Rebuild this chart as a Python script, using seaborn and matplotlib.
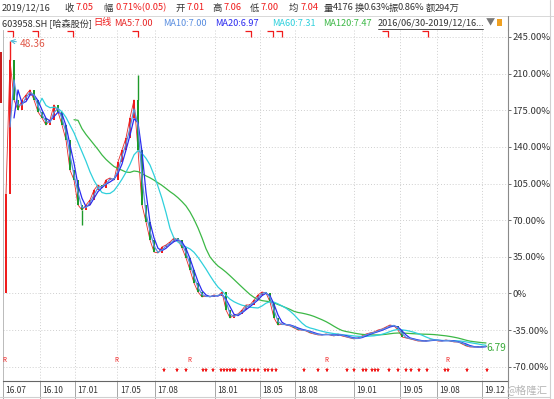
import numpy as np
import pandas as pd
import matplotlib
matplotlib.use("Agg")
import matplotlib.pyplot as plt
from matplotlib.lines import Line2D
from matplotlib.patches import Rectangle
import seaborn as sns

sns.set_style("white")
plt.rcParams['font.family'] = ['Noto Sans CJK SC', 'DejaVu Sans']

# ---------------- data ----------------
base_price = 14.17          # first day close = 0%
period_high = 48.36
period_low = 6.79

# close, % vs first close, one sample ~ 7 trading days
close_pct = [95.0, 223.0, 184.8, 175.3, 184.8, 189.6, 194.4, 184.8, 173.4, 167.6,
             160.9, 165.7, 180.1, 173.4, 160.9, 146.6, 117.9, 108.4, 84.5, 79.7,
             84.5, 89.3, 98.8, 103.6, 100.8, 108.4, 110.3, 108.4, 125.5, 137.0,
             148.5, 167.6, 184.8, 137.0, 84.5, 68.3, 51.1, 39.6, 38.7, 44.4,
             46.3, 49.2, 53.0, 51.1, 43.5, 33.9, 22.4, 10.0, 1.4, -3.3,
             -2.4, -3.3, -1.4, -2.4, 1.4, -15.8, -23.4, -20.5, -19.6, -15.8,
             -11.0, -11.0, -6.2, -1.4, 1.4, 0.5, -8.1, -23.4, -30.1, -29.1,
             -30.1, -31.0, -32.9, -34.9, -34.9, -35.8, -37.7, -38.7, -39.6, -39.6,
             -38.7, -39.6, -40.6, -38.7, -40.6, -41.5, -42.5, -43.4, -42.5, -40.6,
             -38.7, -37.7, -36.8, -34.9, -33.9, -32.0, -30.1, -31.0, -34.9, -41.5,
             -42.5, -43.4, -44.4, -45.4, -45.4, -45.4, -44.4, -44.4, -45.4, -45.4,
             -44.4, -45.4, -46.3, -46.3, -48.2, -50.1, -51.1, -51.1, -51.1, -51.1,
             -50.2]
first_open_pct = 0.0
spike_idx = [1, 19, 33]
spike_pct = [241.3, 65.4, 208.7]

month_labels = ['16.07', '16.10', '17.01', '17.05', '17.08', '18.01',
                '18.05', '18.08', '19.01', '19.05', '19.08', '19.12']
month_pos = [-0.75, 8.4, 17.2, 27.85, 37.2, 52.25, 63.5, 72.25, 87.0, 98.5, 107.75, 119.0]

yticks = [245, 210, 175, 140, 105, 70, 35, 0, -35, -70]
ytick_labels = ['245.00%', '210.00%', '175.00%', '140.00%', '105.00%', '70.00%',
                '35.00%', '0%', '-35.00%', '-70.00%']

flag_pos = [1, 7.25, 16, 32.25, 60.5, 66, 68.25, 94.75, 104.75]
r_pos = [-0.5, 27.5, 45.75, 80, 110.25]
star_pos = [39.5, 42.75, 45, 49.25, 50, 51.75, 53.75, 54.5, 55.25, 56, 56.75, 57.25,
            59, 60, 61, 62, 63, 64.75, 65.5, 66.5, 67.5, 74.5, 78, 80.25, 85.25, 87,
            89.25, 90, 91.5, 92.25, 93, 95.75, 98, 100, 101.25, 103.25, 105.25,
            109.75, 110.5, 115.25, 120.25]

ma_windows = {'MA5': 1, 'MA10': 2, 'MA20': 3, 'MA60': 9, 'MA120': 18}
ma_colors = {'MA5': '#e82828', 'MA10': '#5a8ee0', 'MA20': '#2b2bf0',
             'MA60': '#2fd0dc', 'MA120': '#3cb846'}

W, H = 554, 399
RED = '#f01c1c'
GREEN = '#1f9a2a'
DARK = '#333333'


def fx(x):
    return x / W


def fy(y):
    return 1 - y / H


df = pd.DataFrame({'idx': np.arange(len(close_pct)), 'close': close_pct})
df['open'] = df['close'].shift(1).fillna(first_open_pct)
for name, w in ma_windows.items():
    df[name] = df['close'].rolling(w).mean()

fig = plt.figure(figsize=(W / 100, H / 100), dpi=100)
fig.patch.set_facecolor('white')
ax = fig.add_axes([fx(3), 1 - 381 / H, fx(508 - 3), (381 - 30) / H])

# grid
for yt in yticks:
    ax.axhline(yt, color='#cfcfcf', lw=0.7, ls=(0, (1, 2)), zorder=0)
for mp in month_pos[1:]:
    ax.axvline(mp, color='#cfcfcf', lw=0.7, ls=(0, (1, 2)), zorder=0)

# MA5 sits under the candles
sns.lineplot(data=df, x='idx', y='MA5', color=ma_colors['MA5'], lw=0.6,
             ax=ax, zorder=1, estimator=None)

# candles
up = df['close'] >= df['open']
bottoms = np.minimum(df['open'], df['close'])
heights = np.abs(df['close'] - df['open']).clip(lower=0.8)
ax.bar(df['idx'], heights, bottom=bottoms, width=0.6,
       color=np.where(up, RED, GREEN), linewidth=0, zorder=2)
for i, v in zip(spike_idx, spike_pct):
    c = RED if up[i] else GREEN
    lo = min(df['open'][i], df['close'][i])
    hi = max(df['open'][i], df['close'][i])
    ax.vlines(i, hi if v > hi else v, v if v > hi else lo, color=c, lw=1.0, zorder=2)

# other moving averages
others = list(ma_windows)[1:][::-1]
ma_long = df.melt(id_vars='idx', value_vars=others,
                  var_name='ma', value_name='val').dropna()
sns.lineplot(data=ma_long, x='idx', y='val', hue='ma', palette=ma_colors,
             hue_order=others, lw=0.9, legend=False, ax=ax,
             zorder=3, estimator=None, sort=False)

ax.set_xlim(-0.75, 125.5)
ax.set_ylim(-83.6, 251.6)
ax.set_xlabel('')
ax.set_ylabel('')
ax.set_xticks([])
ax.yaxis.tick_right()
ax.set_yticks(yticks)
ax.set_yticklabels(ytick_labels)
ax.tick_params(axis='y', direction='out', length=2.5, width=0.6, colors='#555555',
               labelsize=6.8, pad=0.8, labelcolor=DARK)
ax.spines['top'].set_visible(False)
ax.spines['bottom'].set_color('#666666')
ax.spines['bottom'].set_linewidth(0.8)
ax.spines['right'].set_color('#8a8a8a')
ax.spines['right'].set_linewidth(0.8)
ax.spines['left'].set_color('#b0b0b0')
ax.spines['left'].set_linewidth(0.6)

# month labels + separators below the axis
xt = ax.get_xaxis_transform()
for lab, mp in zip(month_labels, month_pos):
    ax.plot([mp, mp], [0, -0.05], transform=xt, color='#999999', lw=0.6, clip_on=False)
    ax.annotate(lab, xy=(mp, -0.026), xycoords=xt, xytext=(1.8, 0), textcoords='offset points',
                ha='left', va='center', fontsize=6.0, color=DARK, annotation_clip=False)

# event markers
ax.plot(flag_pos, [0.988] * len(flag_pos), transform=xt, ls='none',
        marker=[(-1, 1), (1, 1), (1, -1)], ms=4, mfc='none', mec=RED, mew=0.9,
        clip_on=False)
for rp in r_pos:
    ax.text(rp, 0.06, 'R', transform=xt, color=RED, fontsize=4.5,
            ha='center', va='center')
ax.plot(star_pos, [0.031] * len(star_pos), transform=xt, ls='none', marker='*',
        ms=3.6, color=RED, mew=0)

# high / low annotations
ax.annotate(f'{period_high:.2f}', xy=(1, (period_high / base_price - 1) * 100),
            xytext=(7, -2.5), textcoords='offset points', ha='left', va='center',
            fontsize=7.3, color='#e05a4a',
            arrowprops=dict(arrowstyle='->', color='#49b6d6', lw=0.7,
                            shrinkA=0, shrinkB=0))
ax.annotate(f'{period_low:.2f}', xy=(len(close_pct) - 1, (period_low / base_price - 1) * 100),
            xytext=(0.5, 0), textcoords='offset points', ha='left', va='center',
            fontsize=7.3, color='#3aaa3a', annotation_clip=False)

# header row 1
row1 = [(2, '2019/12/16', DARK), (64, '收', DARK), (76, '7.05', RED),
        (103, '幅', DARK), (115, '0.71%(0.05)', RED), (175, '开', DARK),
        (187, '7.01', RED), (212, '高', DARK), (224, '7.06', RED),
        (250, '低', DARK), (261, '7.00', RED), (289, '均', DARK),
        (301, '7.04', RED), (324, '量', DARK), (333, '4176', DARK),
        (355, '换', DARK), (363, '0.63%', DARK), (389, '振', DARK),
        (397, '0.86%', DARK), (426, '额', DARK), (435, '294万', DARK)]
for x, t, c in row1:
    fig.text(fx(x), fy(8), t, color=c, fontsize=6.7, ha='left', va='center')

# header row 2
row2 = [(2, '603958.SH [哈森股份]', DARK), (93, '日线', RED),
        (114, 'MA5:7.00', ma_colors['MA5']), (163, 'MA10:7.00', ma_colors['MA10']),
        (215, 'MA20:6.97', ma_colors['MA20']), (272, 'MA60:7.31', ma_colors['MA60']),
        (323, 'MA120:7.47', ma_colors['MA120']), (378, '2016/06/30-2019/12/16...', DARK),
        (486, '▼', '#777777')]
for x, t, c in row2:
    fig.text(fx(x), fy(23), t, color=c, fontsize=6.6, ha='left', va='center')
fig.add_artist(Line2D([fx(378), fx(483)], [fy(29), fy(29)], color=DARK, lw=0.6))
fig.add_artist(Rectangle((fx(497), fy(26)), fx(5), 7 / H, color='#f0a020', lw=0))

# frame lines outside the plot
fig.add_artist(Line2D([0, 1], [fy(16), fy(16)], color='#d8d8d8', lw=0.7))
fig.add_artist(Line2D([fx(508), fx(508)], [fy(16), fy(30)], color='#8a8a8a', lw=0.8))
fig.add_artist(Line2D([fx(508), fx(508)], [fy(381), fy(399)], color='#8a8a8a', lw=0.8))
fig.add_artist(Line2D([fx(550), fx(550)], [0, 1], color='#d0d0d0', lw=0.8))
fig.add_artist(Line2D([0, fx(550)], [fy(397), fy(397)], color='#d0d0d0', lw=0.8))
fig.add_artist(Rectangle((0, fy(103)), fx(2), 51 / H, color='#c82020', lw=0))

fig.text(fx(506), fy(390), '@格隆汇', color='#b5b5b5', fontsize=7.5, ha='left', va='center')

fig.savefig('out.png', dpi=100, facecolor='white')
